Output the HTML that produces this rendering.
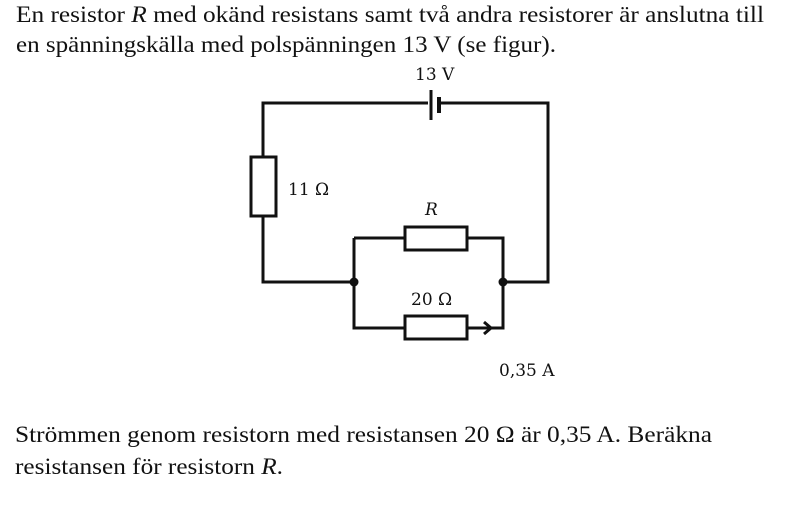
<!DOCTYPE html>
<html><head><meta charset="utf-8"><style>html,body{margin:0;padding:0;background:#fff}svg{display:block}.t{font-family:"Liberation Serif",serif}.d{font-family:"DejaVu Serif",serif}</style></head>
<body>
<svg width="800" height="512" viewBox="0 0 800 512" xmlns="http://www.w3.org/2000/svg" fill="#111">
<g class="t" font-size="23">
<text x="16" y="22" textLength="748" lengthAdjust="spacingAndGlyphs">En resistor <tspan font-style="italic">R</tspan> med okänd resistans samt två andra resistorer är anslutna till</text>
<text x="16" y="52" textLength="540" lengthAdjust="spacingAndGlyphs">en spänningskälla med polspänningen 13 V (se figur).</text>
<text x="15" y="442" textLength="697" lengthAdjust="spacingAndGlyphs">Strömmen genom resistorn med resistansen 20 Ω är 0,35 A. Beräkna</text>
<text x="15" y="474" textLength="268" lengthAdjust="spacingAndGlyphs">resistansen för resistorn <tspan font-style="italic">R</tspan>.</text>
</g>
<g stroke="#111" stroke-width="3" fill="none">
<path d="M428 103 H263 V157 M263 216 V282 H354 M354 238 V328 H405 M467 328 H503 V238 H467 M405 238 H354 M503 282 H548 V103 H441"/>
<rect x="251" y="157" width="25" height="59" fill="#fff"/>
<rect x="405" y="227" width="62" height="23" fill="#fff"/>
<rect x="405" y="316" width="62" height="23" fill="#fff"/>
<line x1="431" y1="90" x2="431" y2="120"/>
<line x1="439" y1="97" x2="439" y2="113" stroke-width="4"/>
<path d="M484 322 L491 328 L484 334"/>
</g>
<circle cx="354" cy="282" r="4.5"/>
<circle cx="503" cy="282" r="4.5"/>
<g class="d" font-size="17">
<text x="415" y="80">13 V</text>
<text x="288" y="195">11 Ω</text>
<text x="425" y="215" font-style="italic">R</text>
<text x="411" y="305">20 Ω</text>
<text x="499" y="376">0,35 A</text>
</g>
</svg>
</body></html>
